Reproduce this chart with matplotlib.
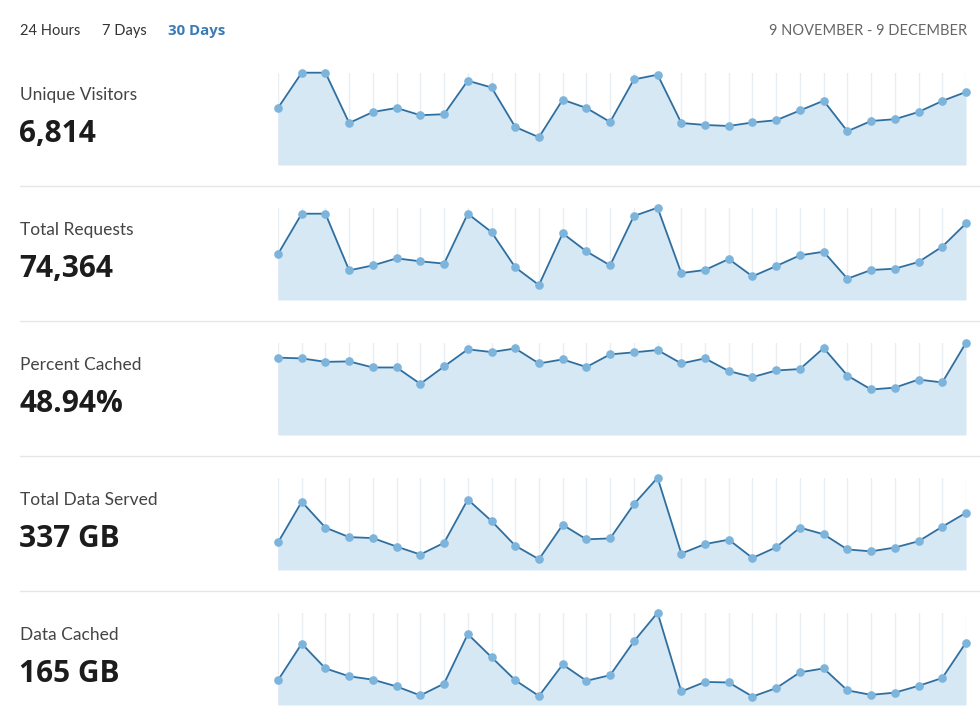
import matplotlib
matplotlib.use("Agg")
import matplotlib.pyplot as plt
import numpy as np

plt.rcParams['font.family'] = ['Lato', 'DejaVu Sans']

# ---- data ----
days = list(range(30))
metric_names = ["Unique Visitors", "Total Requests", "Percent Cached", "Total Data Served", "Data Cached"]
metric_totals = ["6,814", "74,364", "48.94%", "337 GB", "165 GB"]
range_tabs = ["24 Hours", "7 Days", "30 Days"]
date_range = "9 NOVEMBER - 9 DECEMBER"

unique_visitors = [228, 369, 369, 168, 212, 228, 199, 203, 337, 310, 152, 111, 261, 228, 172,
                   342, 361, 168, 160, 156, 170, 179, 218, 257, 135, 176, 183, 212, 256, 292]
total_requests = [2396, 4498, 4498, 1544, 1804, 2170, 2016, 1896, 4498, 3541, 1703, 779, 3474, 2535, 1804,
                  4378, 4811, 1405, 1564, 2136, 1232, 1770, 2328, 2516, 1111, 1564, 1631, 1982, 2781, 3993]
percent_cached = [53.7, 53.2, 50.8, 51.1, 46.9, 46.9, 35.5, 47.6, 59.5, 57.6, 60.1, 49.7, 52.5, 47.2, 56.0,
                  57.4, 59.0, 49.7, 53.2, 44.4, 40.2, 44.8, 45.8, 60.4, 41.3, 31.6, 32.9, 38.5, 36.5, 64.1]
data_served_gb = [8.7, 21.6, 13.4, 10.4, 10.1, 7.4, 4.9, 8.6, 22.3, 15.5, 7.7, 3.4, 14.3, 9.7, 10.0,
                  20.8, 29.2, 5.2, 8.2, 9.6, 3.8, 7.2, 13.4, 11.3, 6.5, 5.9, 7.1, 9.1, 13.7, 18.1]
data_cached_gb = [4.4, 10.9, 6.5, 5.1, 4.5, 3.3, 1.7, 3.8, 12.6, 8.5, 4.4, 1.6, 7.2, 4.3, 5.3,
                  11.3, 16.4, 2.4, 4.1, 4.0, 1.5, 3.0, 5.8, 6.5, 2.6, 1.8, 2.2, 3.4, 4.8, 11.1]

series = [unique_visitors, total_requests, percent_cached, data_served_gb, data_cached_gb]

# ---- layout ----
W, H = 980, 725
fig = plt.figure(figsize=(W / 100, H / 100), dpi=100)
fig.patch.set_facecolor("white")

def fx(px):
    return px / W

def fy(px):
    return 1 - px / H

LINE = "#2f6fa0"
MARK = "#7cb4dc"
FILL = "#d7e8f5"
GRID = "#e9eef3"
BOLD_FONT = ['Open Sans', 'DejaVu Sans']

# header
fig.text(fx(20), fy(31), range_tabs[0], fontsize=10.5, color="#333333", va="center", ha="left")
fig.text(fx(102), fy(31), range_tabs[1], fontsize=10.5, color="#333333", va="center", ha="left")
fig.text(fx(168), fy(31), range_tabs[2], fontsize=10.8, color="#3b7bb5", fontweight="bold",
         va="center", ha="left", family=BOLD_FONT)
fig.text(fx(967), fy(31), date_range, fontsize=10.5, color="#666666", va="center", ha="right")

left_px, right_px = 278, 966
row_step = 135
top0, bottom0 = 72.7, 165.0

for i, (name, total, vals) in enumerate(zip(metric_names, metric_totals, series)):
    top = top0 + i * row_step
    bot = bottom0 + i * row_step
    ax = fig.add_axes([fx(left_px), fy(bot), fx(right_px - left_px), (bot - top) / H])
    ax.set_xlim(0, len(days) - 1)
    ax.set_ylim(0, max(vals))
    ax.set_xticks(days)
    ax.set_yticks([])
    ax.tick_params(axis="x", length=0, labelbottom=False)
    ax.grid(axis="x", color=GRID, linewidth=1.0)
    ax.set_axisbelow(True)
    for s in ax.spines.values():
        s.set_visible(False)
    ax.patch.set_alpha(0)
    ax.fill_between(days, vals, 0, color=FILL, linewidth=0, zorder=1)
    ax.plot(days, vals, color=LINE, linewidth=1.3, zorder=2, clip_on=False)
    ax.plot(days, vals, linestyle="none", marker="o", markersize=5.2,
            markerfacecolor=MARK, markeredgecolor=MARK, zorder=3, clip_on=False)

    # labels
    fig.text(fx(20), fy(95 + i * row_step), name, fontsize=12.5, color="#444444", va="center", ha="left")
    fig.text(fx(19), fy(134 + i * row_step), total, fontsize=21.5, color="#1c1c1c",
             fontweight="bold", va="center", ha="left", family=BOLD_FONT)

    # separator
    if i < len(metric_names) - 1:
        ysep = 186 + i * row_step
        fig.add_artist(plt.Line2D([fx(20), fx(980)], [fy(ysep), fy(ysep)], color="#e6e6e6", linewidth=1.0))

fig.savefig("out.png", dpi=100, facecolor="white")
